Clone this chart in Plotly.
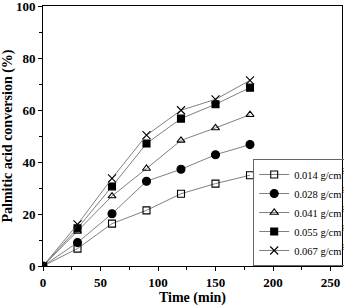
import plotly.graph_objects as go

time_min = [0, 30, 60, 90, 120, 150, 180]
labels = ["0.014 g/cm<sup>3</sup>", "0.028 g/cm<sup>3</sup>", "0.041 g/cm<sup>3</sup>",
          "0.055 g/cm<sup>3</sup>", "0.067 g/cm<sup>3</sup>"]
conv_0014 = [0, 6.7, 16.3, 21.4, 27.8, 31.7, 34.9]
conv_0028 = [0, 9.0, 20.1, 32.6, 37.2, 42.8, 46.7]
conv_0041 = [0, 13.3, 26.9, 37.5, 48.3, 53.1, 58.2]
conv_0055 = [0, 14.5, 30.6, 47.1, 56.7, 62.2, 68.6]
conv_0067 = [0, 16.0, 33.7, 50.3, 59.9, 64.1, 71.4]
series = [conv_0014, conv_0028, conv_0041, conv_0055, conv_0067]
symbols = ["square-open", "circle", "triangle-up-open", "square", "x-thin-open"]
sizes = [7, 8, 7, 7, 8]

FONT = "Liberation Serif"
fig = go.Figure()
for lab, ys, sym, sz in zip(labels, series, symbols, sizes):
    fig.add_trace(go.Scatter(
        x=time_min, y=ys, name=lab, mode="lines+markers",
        line=dict(color="#808080", width=1),
        marker=dict(symbol=sym, size=sz, color="black",
                    line=dict(color="black", width=1.1)),
    ))

axis_common = dict(
    showline=True, linecolor="black", linewidth=1, mirror=True,
    ticks="outside", ticklen=4, tickcolor="black", tickwidth=1,
    showgrid=False, zeroline=False, ticklabeloverflow="allow",
    tickfont=dict(family=FONT, size=13, color="black", weight="bold"),
)
fig.update_xaxes(range=[0, 260], tickvals=[0, 50, 100, 150, 200, 250],
                 minor=dict(ticks="outside", ticklen=3, tickvals=[25, 75, 125, 175, 225], tickcolor="black"),
                 title=dict(text="<b>Time (min)</b>", font=dict(family=FONT, size=14, color="black"), standoff=2),
                 **axis_common)
fig.update_yaxes(range=[0, 100], tickvals=[0, 20, 40, 60, 80, 100],
                 minor=dict(ticks="outside", ticklen=3, tickvals=[10, 30, 50, 70, 90], tickcolor="black"),
                 title=dict(text="<b>Palmitic acid conversion (%)</b>", font=dict(family=FONT, size=14, color="black"), standoff=4),
                 **axis_common)
fig.update_layout(
    width=344, height=307,
    margin=dict(l=43, r=2, t=6, b=41, autoexpand=False),
    plot_bgcolor="white", paper_bgcolor="white",
    legend=dict(x=0.703, y=0, xanchor="left", yanchor="bottom",
                bordercolor="#666666", borderwidth=1, bgcolor="rgba(0,0,0,0)",
                font=dict(family=FONT, size=10.5, color="black"),
                itemwidth=30, tracegroupgap=0),
)
fig.write_html("out.html", config={"displayModeBar": False},
               post_script="document.body.style.margin='0';")
